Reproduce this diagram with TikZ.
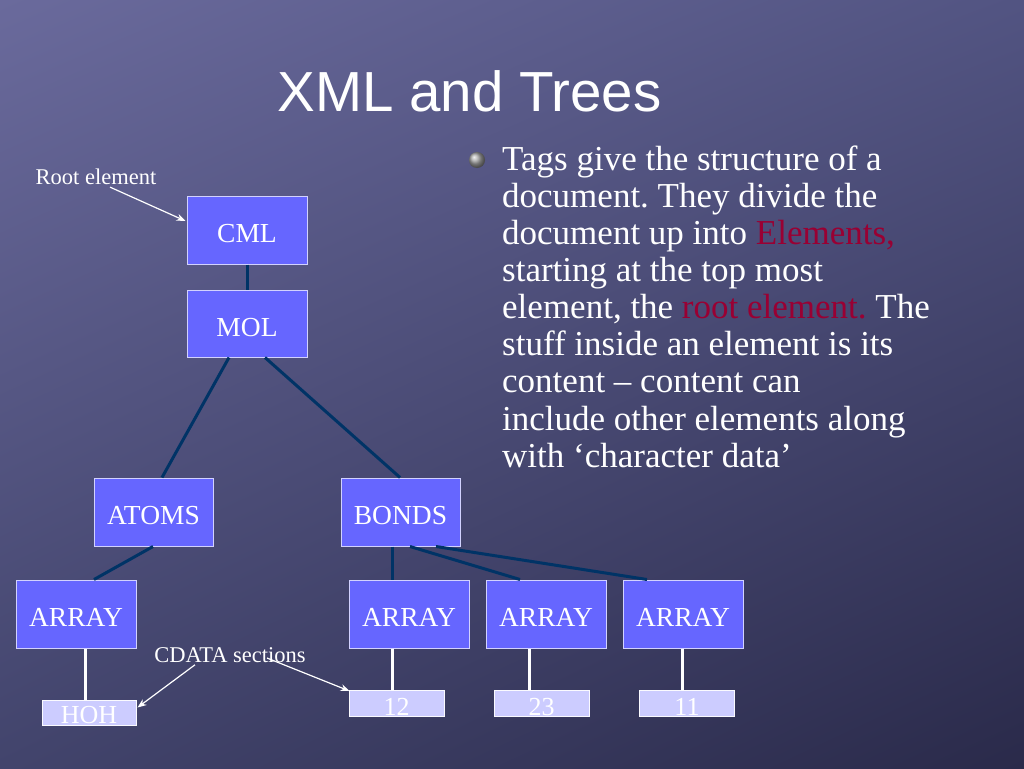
\documentclass[tikz,border=0pt]{standalone}
\usepackage{fontspec}
\setmainfont{Liberation Serif}
\newfontfamily\titlefont{Liberation Sans}
\usetikzlibrary{calc,arrows.meta,shadings}
\definecolor{bgA}{RGB}{106,106,156}
\definecolor{bgB}{RGB}{82,84,130}
\definecolor{bgC}{RGB}{66,68,108}
\definecolor{bgD}{RGB}{42,42,74}
\definecolor{boxfill}{RGB}{102,102,255}
\definecolor{boxline}{RGB}{210,210,255}
\definecolor{leaffill}{RGB}{204,204,255}
\definecolor{navy}{RGB}{0,51,102}
\definecolor{hilite}{RGB}{153,0,51}
\tikzset{
  elem/.style={draw=boxline, line width=1pt, fill=boxfill, minimum width=120pt,
    minimum height=68pt, inner sep=0pt, text=white, text height=25pt, text depth=0pt,
    font=\fontsize{27.5}{30}\selectfont},
  leaf/.style={draw=white!90!leaffill, line width=1pt, fill=leaffill, minimum width=95pt,
    minimum height=26pt, inner sep=0pt},
  leaftext/.style={text=white, font=\fontsize{26}{30}\selectfont, anchor=base, inner sep=0pt},
  tree/.style={draw=navy, line width=3pt},
  datalink/.style={draw=white, line width=3pt},
  note/.style={text=white, font=\fontsize{22.5}{26}\selectfont, inner sep=0pt},
  pointer/.style={draw=white, line width=1.2pt, -{Stealth[length=9pt,width=7pt]}},
  body/.style={text=white, font=\fontsize{35}{37}\selectfont, anchor=base west, inner sep=0pt},
}
\begin{document}
\frenchspacing
\begin{tikzpicture}[x=1pt,y=-1pt]
\useasboundingbox (0,0) rectangle (1024,768);
\shade[upper left=bgA, upper right=bgB, lower left=bgC, lower right=bgD] (0,0) rectangle (1024,768);

% title
\node[text=white, font=\titlefont\fontsize{56.5}{60}\selectfont, anchor=base, inner sep=0pt] (title) at (469.5,111) {XML and Trees};

% bullet text
\shade[ball color=gray!70] (477,160) circle (8);
\node[body] (t1) at (502,170) {Tags give the structure of a};
\node[body] (t2) at (502,207) {document. They divide the};
\node[body] (t3) at (502,244) {document up into \textcolor{hilite}{Elements,}};
\node[body] (t4) at (502,281) {starting at the top most};
\node[body] (t5) at (502,318) {element, the \textcolor{hilite}{root element.} The};
\node[body] (t6) at (502,355) {stuff inside an element is its};
\node[body] (t7) at (502,392) {content -- content can};
\node[body] (t8) at (502,430) {include other elements along};
\node[body] (t9) at (502,467) {with `character data'};

% tree
\node[elem] (cml) at (247,230) {CML};
\node[elem, minimum height=67pt] (mol) at (247,323.5) {MOL};
\node[elem, minimum width=119pt] (atoms) at (153.5,512) {ATOMS};
\node[elem, minimum width=119pt] (bonds) at (400.5,512) {BONDS};
\node[elem] (arr1) at (76,614) {ARRAY};
\node[elem] (arr2) at (409,614) {ARRAY};
\node[elem] (arr3) at (546,614) {ARRAY};
\node[elem] (arr4) at (683,614) {ARRAY};

\node[leaf, minimum width=94pt, minimum height=25pt] (hoh) at (89,712.5) {};
\node[leaf] (l12) at (396.5,703.5) {};
\node[leaf] (l23) at (541.5,703.5) {};
\node[leaf] (l11) at (687,703.5) {};
\node[leaftext] (hohT) at (89,723) {HOH};
\node[leaftext] (l12T) at (396.5,715) {12};
\node[leaftext] (l23T) at (541.5,715) {23};
\node[leaftext] (l11T) at (687,715) {11};

\draw[tree] (cml.south) -- (mol.north);
\draw[tree] ($(mol.south)+(-18,0)$) -- ($(atoms.north)+(8.5,0)$);
\draw[tree] ($(mol.south)+(18,0)$) -- ($(bonds.north)+(-0.5,0)$);
\draw[tree] ($(atoms.south)+(-0.5,0)$) -- ($(arr1.north)+(18,0)$);
\draw[tree] ($(bonds.south)+(-8.5,0)$) -- ($(arr2.north)+(-17,0)$);
\draw[tree] ($(bonds.south)+(9.5,0)$) -- ($(arr3.north)+(-26,0)$);
\draw[tree] ($(bonds.south)+(35.5,0)$) -- ($(arr4.north)+(-36,0)$);

\draw[datalink] ($(arr1.south)+(9,0)$) -- ($(hoh.north)+(-4,0)$);
\draw[datalink] ($(arr2.south)+(-17,0)$) -- ($(l12.north)+(-4.5,0)$);
\draw[datalink] ($(arr3.south)+(-17,0)$) -- ($(l23.north)+(-12.5,0)$);
\draw[datalink] ($(arr4.south)+(-1,0)$) -- ($(l11.north)+(-5,0)$);

% annotations
\node[note] (root) at (96,177) {Root element};
\node[note] (cdata) at (230,655) {CDATA sections};
\draw[pointer] ($(root.south)+(14,2)$) -- ($(cml.west)+(-1,-9)$);
\draw[pointer] ($(cdata.south)+(-35,2)$) -- ($(hoh.east)+(1,-5)$);
\draw[pointer] ($(cdata.center)+(37,3)$) -- ($(l12.north west)+(1,1)$);
\end{tikzpicture}
\end{document}
